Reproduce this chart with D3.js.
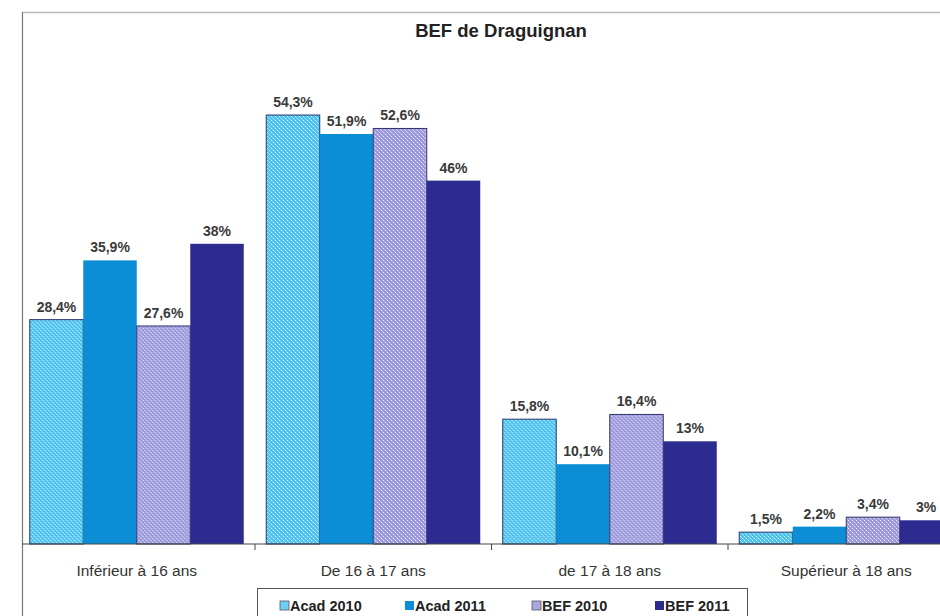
<!DOCTYPE html>
<html>
<head>
<meta charset="utf-8">
<script src="https://cdn.jsdelivr.net/npm/d3@7"></script>
<style>
    body { margin: 0; background: #fff; }
    svg { display: block; font-family: "Liberation Sans", Arial, sans-serif; }
</style>
</head>
<body>
<svg id="chart"></svg>
<script>
// data
let categories = ["Inférieur à 16 ans", "De 16 à 17 ans", "de 17 à 18 ans", "Supérieur à 18 ans"];
let seriesNames = ["Acad 2010", "Acad 2011", "BEF 2010", "BEF 2011"];
let acad2010 = [28.4, 54.3, 15.8, 1.5];
let acad2011 = [35.9, 51.9, 10.1, 2.2];
let bef2010 = [27.6, 52.6, 16.4, 3.4];
let bef2011 = [38, 46, 13, 3];
let seriesValues = [acad2010, acad2011, bef2010, bef2011];

let width = 940,
    height = 616;

let svg = d3.select("#chart")
    .attr("width", width)
    .attr("height", height);

// patterns for the speckled bars
let defs = svg.append("defs");

function addPattern(id, base) {
    let p = defs.append("pattern")
        .attr("id", id)
        .attr("patternUnits", "userSpaceOnUse")
        .attr("width", 4)
        .attr("height", 4);
    p.append("rect").attr("width", 4).attr("height", 4).attr("fill", base);
    p.append("rect").attr("x", 0).attr("y", 0).attr("width", 1).attr("height", 1).attr("fill", "#fff").attr("opacity", 0.8);
    p.append("rect").attr("x", 2).attr("y", 2).attr("width", 1).attr("height", 1).attr("fill", "#fff").attr("opacity", 0.8);
    p.append("rect").attr("x", 1).attr("y", 1).attr("width", 1).attr("height", 1).attr("fill", "#fff").attr("opacity", 0.35);
    p.append("rect").attr("x", 3).attr("y", 3).attr("width", 1).attr("height", 1).attr("fill", "#fff").attr("opacity", 0.35);
}
addPattern("pAcad", "#4cc3ef");
addPattern("pBef", "#9c98dc");

let fills = ["url(#pAcad)", "#0b8ed6", "url(#pBef)", "#2c2c90"];
let swatchFills = ["#6fcff2", "#0b8ed6", "#a9a6e0", "#2c2c90"];
let strokes = ["#24386e", "none", "#33336e", "none"];

// scales
let baseY = 544;
let x0 = d3.scaleBand()
    .domain(categories)
    .range([18.5, 964.5])
    .paddingInner(0)
    .paddingOuter(0);

let x1 = d3.scaleBand()
    .domain(d3.range(seriesNames.length))
    .range([0, x0.bandwidth()])
    .paddingOuter(0.21)
    .paddingInner(0);

let y = d3.scaleLinear()
    .domain([0, 60])
    .range([baseY, baseY - 474]);

// frame
svg.append("line")
    .attr("x1", 22).attr("x2", width)
    .attr("y1", 12.5).attr("y2", 12.5)
    .attr("stroke", "#bbb")
    .attr("stroke-width", 1.5);

svg.append("line")
    .attr("x1", 22.5).attr("x2", 22.5)
    .attr("y1", 12).attr("y2", height)
    .attr("stroke", "#777")
    .attr("stroke-width", 1.2);

// title
svg.append("text")
    .attr("x", 501)
    .attr("y", 37)
    .attr("text-anchor", "middle")
    .attr("font-size", 18.5)
    .attr("font-weight", "bold")
    .attr("fill", "#222")
    .text("BEF de Draguignan");

// bars
let groups = svg.append("g")
    .selectAll("g")
    .data(categories)
    .enter().append("g")
    .attr("transform", function (d) { return "translate(" + x0(d) + ",0)"; });

let fmt = function (v) {
    return (Math.round(v * 10) % 10 === 0 ? d3.format(".0f")(v) : d3.format(".1f")(v)).replace(".", ",") + "%";
};

groups.selectAll("rect")
    .data(function (d, i) { return seriesValues.map(function (s, k) { return { k: k, v: s[i] }; }); })
    .enter().append("rect")
    .attr("x", function (d) { return x1(d.k); })
    .attr("y", function (d) { return y(d.v); })
    .attr("width", x1.bandwidth())
    .attr("height", function (d) { return baseY - y(d.v); })
    .attr("fill", function (d) { return fills[d.k]; })
    .attr("stroke", function (d) { return strokes[d.k]; })
    .attr("stroke-width", 1);

// value labels (keep the last one inside the picture)
groups.selectAll("text")
    .data(function (d, i) { return seriesValues.map(function (s, k) { return { k: k, v: s[i], c: d }; }); })
    .enter().append("text")
    .attr("x", function (d) {
        let cx = x1(d.k) + x1.bandwidth() / 2;
        return Math.min(cx, width - 14 - x0(d.c));
    })
    .attr("y", function (d) { return y(d.v) - 8; })
    .attr("text-anchor", "middle")
    .attr("font-size", 14)
    .attr("font-weight", "bold")
    .attr("fill", "#3a3a3a")
    .text(function (d) { return fmt(d.v); });

// axis
let axis = svg.append("g")
    .attr("transform", "translate(0," + baseY + ")");

axis.append("line")
    .attr("x1", 22).attr("x2", width)
    .attr("stroke", "#444")
    .attr("stroke-width", 1.2);

axis.selectAll(".tick")
    .data(categories.slice(1))
    .enter().append("line")
    .attr("x1", function (d) { return x0(d); })
    .attr("x2", function (d) { return x0(d); })
    .attr("y1", 0).attr("y2", 6)
    .attr("stroke", "#444");

axis.selectAll(".clabel")
    .data(categories)
    .enter().append("text")
    .attr("x", function (d) { return x0(d) + x0.bandwidth() / 2; })
    .attr("y", 32)
    .attr("text-anchor", "middle")
    .attr("font-size", 15.5)
    .attr("fill", "#333")
    .text(function (d) { return d; });

// legend
let legend = svg.append("g");
legend.append("rect")
    .attr("x", 257.5).attr("y", 588.5)
    .attr("width", 490).attr("height", 40)
    .attr("fill", "#fff")
    .attr("stroke", "#555")
    .attr("stroke-width", 1);

let legendX = [280, 405, 532, 655];
let items = legend.selectAll(".item")
    .data(seriesNames)
    .enter().append("g")
    .attr("transform", function (d, i) { return "translate(" + legendX[i] + ",601)"; });

items.append("rect")
    .attr("width", 9).attr("height", 9)
    .attr("fill", function (d, i) { return swatchFills[i]; })
    .attr("stroke", function (d, i) { return strokes[i] === "none" ? "none" : "#556"; })
    .attr("stroke-width", 0.8);

items.append("text")
    .attr("x", 10)
    .attr("y", 10)
    .attr("font-size", 14.5)
    .attr("font-weight", "bold")
    .attr("fill", "#222")
    .text(function (d) { return d; });
</script>
</body>
</html>
